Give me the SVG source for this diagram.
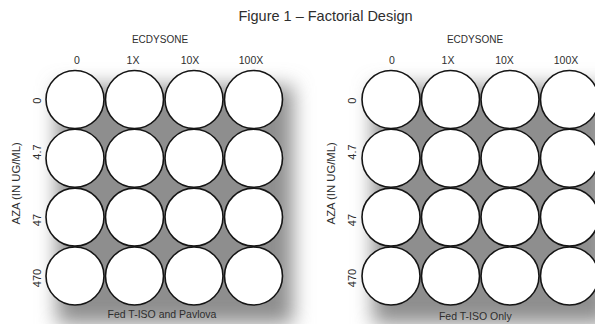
<svg xmlns="http://www.w3.org/2000/svg" width="595" height="324" viewBox="0 0 595 324">
<style>
text{font-family:"Liberation Sans",Arial,sans-serif;fill:#2e2e2e}
.title{font-size:14.5px}
.hd{font-size:10px}
.col{font-size:10.5px}
.row{font-size:11px}
.ax{font-size:11.3px}
.foot{font-size:10.5px}
.well{fill:#fff;stroke:#151515;stroke-width:1.6}
.shadow{fill:#8e8e8e;filter:url(#blur)}
</style>
<defs>
<filter id="blur" x="-30%" y="-30%" width="160%" height="160%"><feGaussianBlur stdDeviation="10"/></filter>
</defs>
<rect width="595" height="324" fill="#fff"/>
<g id="shadows">
<rect class="shadow" x="57" y="86" width="236" height="238"/>
<rect class="shadow" x="373" y="86" width="236" height="238"/>
</g>
<g id="connectors"/>
<text id="title" class="title" x="325.5" y="21" text-anchor="middle">Figure 1 – Factorial Design</text>

<g id="left-plate">
<g id="left-labels">
<text class="hd" x="160" y="42.5" text-anchor="middle">ECDYSONE</text>
<text class="col" x="77" y="63.5" text-anchor="middle">0</text>
<text class="col" x="133" y="63.5" text-anchor="middle">1X</text>
<text class="col" x="190" y="63.5" text-anchor="middle">10X</text>
<text class="col" x="251" y="63.5" text-anchor="middle">100X</text>
<text class="row" transform="translate(40.5,100.8) rotate(-90)" text-anchor="middle">0</text>
<text class="row" transform="translate(40.5,152) rotate(-90)" text-anchor="middle">4.7</text>
<text class="row" transform="translate(40.5,220) rotate(-90)" text-anchor="middle">47</text>
<text class="row" transform="translate(40.5,278) rotate(-90)" text-anchor="middle">470</text>
<text class="ax" transform="translate(20.3,183.3) rotate(-90)" text-anchor="middle">AZA (IN UG/ML)</text>
<text class="foot" x="162" y="317.5" text-anchor="middle">Fed T-ISO and Pavlova</text>
</g>
<g id="L-r1-c1"><circle class="well" cx="75" cy="99.5" r="29"/></g>
<g id="L-r1-c2"><circle class="well" cx="134.5" cy="99.5" r="29"/></g>
<g id="L-r1-c3"><circle class="well" cx="194" cy="99.5" r="29"/></g>
<g id="L-r1-c4"><circle class="well" cx="253.5" cy="99.5" r="29"/></g>
<g id="L-r2-c1"><circle class="well" cx="75" cy="158.3" r="29"/></g>
<g id="L-r2-c2"><circle class="well" cx="134.5" cy="158.3" r="29"/></g>
<g id="L-r2-c3"><circle class="well" cx="194" cy="158.3" r="29"/></g>
<g id="L-r2-c4"><circle class="well" cx="253.5" cy="158.3" r="29"/></g>
<g id="L-r3-c1"><circle class="well" cx="75" cy="217.1" r="29"/></g>
<g id="L-r3-c2"><circle class="well" cx="134.5" cy="217.1" r="29"/></g>
<g id="L-r3-c3"><circle class="well" cx="194" cy="217.1" r="29"/></g>
<g id="L-r3-c4"><circle class="well" cx="253.5" cy="217.1" r="29"/></g>
<g id="L-r4-c1"><circle class="well" cx="75" cy="276" r="29"/></g>
<g id="L-r4-c2"><circle class="well" cx="134.5" cy="276" r="29"/></g>
<g id="L-r4-c3"><circle class="well" cx="194" cy="276" r="29"/></g>
<g id="L-r4-c4"><circle class="well" cx="253.5" cy="276" r="29"/></g>
</g>

<g id="right-plate">
<g id="right-labels">
<text class="hd" x="475" y="42.5" text-anchor="middle">ECDYSONE</text>
<text class="col" x="392" y="64" text-anchor="middle">0</text>
<text class="col" x="448" y="63.5" text-anchor="middle">1X</text>
<text class="col" x="504.5" y="63.5" text-anchor="middle">10X</text>
<text class="col" x="566" y="63.5" text-anchor="middle">100X</text>
<text class="row" transform="translate(355.5,100.8) rotate(-90)" text-anchor="middle">0</text>
<text class="row" transform="translate(355.5,152) rotate(-90)" text-anchor="middle">4.7</text>
<text class="row" transform="translate(355.5,220) rotate(-90)" text-anchor="middle">47</text>
<text class="row" transform="translate(355.5,278) rotate(-90)" text-anchor="middle">470</text>
<text class="ax" transform="translate(335,183.3) rotate(-90)" text-anchor="middle">AZA (IN UG/ML)</text>
<text class="foot" x="475.3" y="319.5" text-anchor="middle">Fed T-ISO Only</text>
</g>
<g id="R-r1-c1"><circle class="well" cx="391" cy="99.5" r="29"/></g>
<g id="R-r1-c2"><circle class="well" cx="450.5" cy="99.5" r="29"/></g>
<g id="R-r1-c3"><circle class="well" cx="510" cy="99.5" r="29"/></g>
<g id="R-r1-c4"><circle class="well" cx="569.5" cy="99.5" r="29"/></g>
<g id="R-r2-c1"><circle class="well" cx="391" cy="158.3" r="29"/></g>
<g id="R-r2-c2"><circle class="well" cx="450.5" cy="158.3" r="29"/></g>
<g id="R-r2-c3"><circle class="well" cx="510" cy="158.3" r="29"/></g>
<g id="R-r2-c4"><circle class="well" cx="569.5" cy="158.3" r="29"/></g>
<g id="R-r3-c1"><circle class="well" cx="391" cy="217.1" r="29"/></g>
<g id="R-r3-c2"><circle class="well" cx="450.5" cy="217.1" r="29"/></g>
<g id="R-r3-c3"><circle class="well" cx="510" cy="217.1" r="29"/></g>
<g id="R-r3-c4"><circle class="well" cx="569.5" cy="217.1" r="29"/></g>
<g id="R-r4-c1"><circle class="well" cx="391" cy="276" r="29"/></g>
<g id="R-r4-c2"><circle class="well" cx="450.5" cy="276" r="29"/></g>
<g id="R-r4-c3"><circle class="well" cx="510" cy="276" r="29"/></g>
<g id="R-r4-c4"><circle class="well" cx="569.5" cy="276" r="29"/></g>
</g>
</svg>
